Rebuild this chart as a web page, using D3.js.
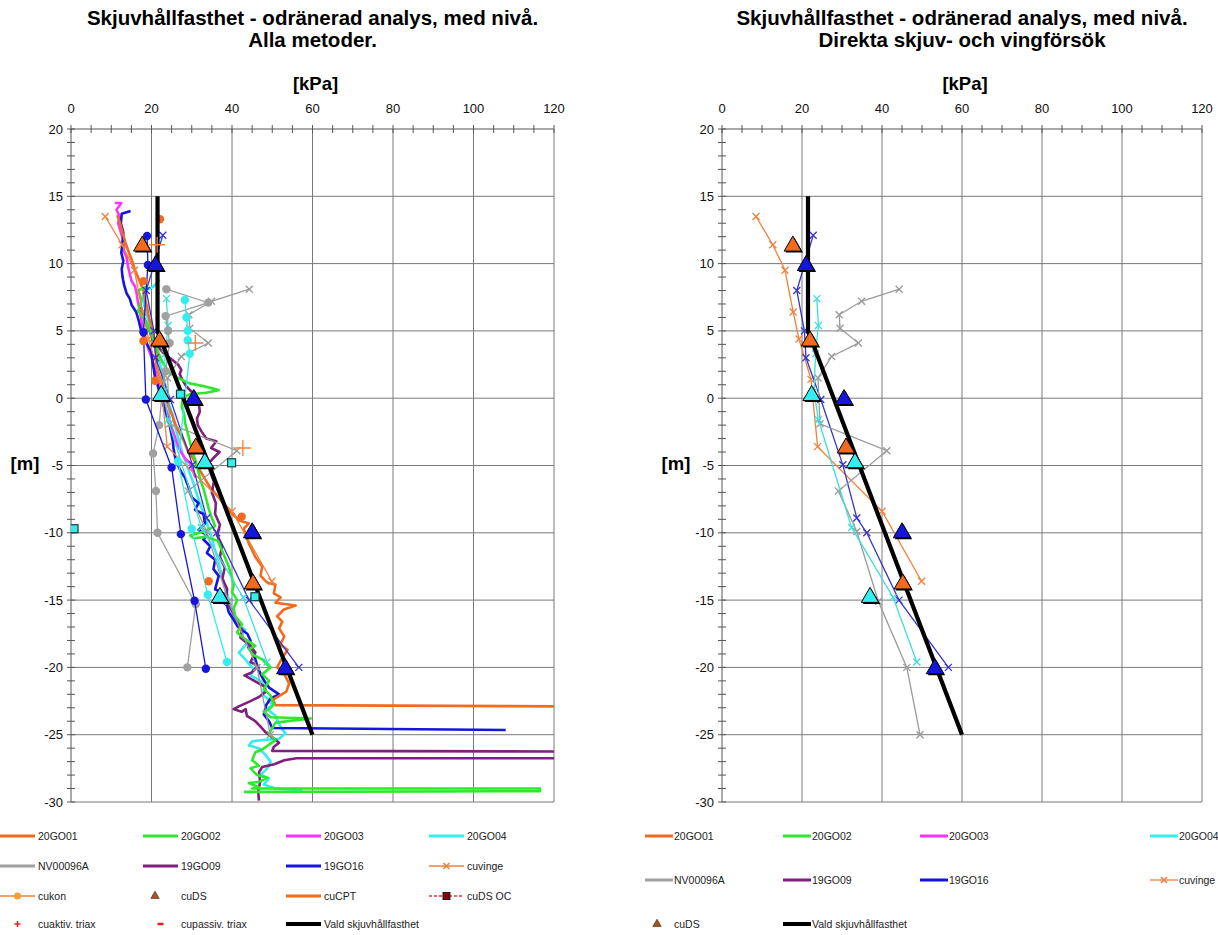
<!DOCTYPE html>
<html><head><meta charset="utf-8">
<script src="https://cdn.jsdelivr.net/npm/d3@7"></script>
<style>body{margin:0;background:#fff;} svg{display:block;} text{font-family:'Liberation Sans',Arial,sans-serif;}</style>
</head><body><svg id="c" width="1218" height="935"></svg>
<script>
// ---------- tick labels ----------
const xTicks = [0, 20, 40, 60, 80, 100, 120];
const yTicks = [20, 15, 10, 5, 0, -5, -10, -15, -20, -25, -30];

// ---------- CPT series: [kPa, level m] ----------
const s20GO01 = [[11.5,13.6],[12.2,13],[12.8,12.3],[13.5,11.6],[14.4,10.8],[15.2,10.2],[15.8,9.6],[16.5,9.1],[17.3,8.5],[18,8],[18.3,7.4],[18.9,6.8],[19.3,6.1],[19.8,5.5],[20.3,4.9],[20.6,4.2],[21,3.6],[21.4,3],[21.2,2.4],[21.8,1.8],[22.6,1.2],[23,0.6],[23.6,0],[24.3,-0.7],[25.2,-1.3],[26,-2],[27,-2.6],[28.1,-3.2],[29,-3.9],[30.4,-4.5],[31.2,-5],[32.3,-5.5],[33.5,-6.1],[34.5,-6.6],[35.9,-7.1],[37.3,-7.6],[38.5,-8.1],[40.1,-8.6],[42,-9.1],[44.2,-9.3],[42.9,-9.7],[43.5,-10.2],[44.2,-10.8],[45,-11.3],[45.8,-11.8],[47.5,-12.5],[47.1,-13.2],[48.75,-13.7],[50.8,-13.85],[50.4,-14.5],[52.1,-14.8],[50.8,-15.2],[55.8,-15.4],[52.9,-15.7],[51.2,-16.2],[52.5,-16.6],[51.7,-17.1],[53,-17.7],[52,-18.3],[53.8,-18.7],[52.5,-19.3],[51.2,-20],[53,-20.5],[54.2,-21.2],[53.5,-21.8],[50.2,-22.4],[50.8,-22.8],[125,-22.9]];
const s20GO02 = [[18.8,8.3],[16.7,8],[17.5,7.3],[16.7,6.5],[17.9,6],[18.8,5.5],[19.6,5],[20.3,4.5],[21,4],[21.7,3.4],[22.5,2.8],[23.5,2.3],[24.5,1.9],[26.6,1.5],[29.5,1.1],[32.8,0.9],[36.7,0.6],[33.6,0.4],[29.5,0.3],[27.8,0],[27.5,-0.6],[28.1,-1.2],[28.4,-1.9],[29,-2.6],[29.6,-3.3],[30.2,-4],[31,-4.7],[31.6,-5.4],[32.2,-6.1],[33,-6.8],[33.6,-7.5],[34.2,-8.2],[35,-8.9],[35.8,-9.5],[33,-9.9],[29.6,-10.2],[30.5,-10.4],[33.5,-10.3],[36.5,-10.6],[37.2,-11.1],[38.2,-11.8],[39.2,-12.5],[39.8,-13.2],[40.5,-13.8],[40,-14.4],[41.3,-15],[40.4,-15.6],[40.8,-16.2],[42.5,-16.8],[41.25,-17.4],[43.3,-17.9],[45.8,-18.4],[44.2,-18.65],[45.4,-19.1],[47.5,-19.4],[48.75,-19.8],[49.6,-20],[47.5,-20.5],[49.2,-21],[47.9,-21.6],[49.6,-22.1],[50.4,-22.8],[49.2,-23.1],[47.9,-23.3],[49.6,-23.7],[59.6,-23.8],[50.8,-24.1],[49.2,-24.9],[50.8,-25.4],[47.5,-26.1],[45.8,-26.3],[45,-26.9],[46.7,-27.3],[44.6,-27.5],[46.2,-28],[48.8,-28.2],[46.7,-28.5],[44.2,-28.6],[46.7,-28.9],[45,-29],[116.5,-29],[116.5,-29.2],[43,-29.25]];
const s20GO03 = [[10.9,14.5],[12.5,14.5],[11.3,14],[12.1,13.5],[11.7,13],[12.5,12.2],[13.4,11.5],[13,11],[13.8,10.5],[14.2,9.75],[14.6,9.25],[15,8.75],[15.9,8.3],[16.3,7.8],[16.7,7],[17.1,6.5],[17.5,5.8],[17.9,5],[18.6,4.3],[19.3,3.6],[20.2,2.9],[20.8,2.2],[21.4,1.5],[22.2,0.8],[22.8,0.1],[23.4,-0.6],[24.1,-1.3],[24.8,-2],[25.6,-2.7],[26.4,-3.4],[27.3,-4],[28.4,-4.5],[29.5,-4.8],[30.2,-5.3],[30.9,-5.9]];
const s20GO04 = [[22,8.8],[20.5,8.3],[18.5,8],[17.8,7.5],[18.2,6.9],[18.8,6.3],[19.3,5.6],[19.9,5],[20.5,4.3],[21.2,3.6],[21.8,2.9],[22.4,2.2],[23,1.5],[23.5,0.8],[24,0.1],[24.5,-0.6],[25.3,-1.3],[25.8,-2],[26.4,-2.7],[27,-3.4],[27.7,-4.1],[28.6,-4.8],[29.4,-5.5],[30.3,-6.2],[31,-6.9],[31.8,-7.6],[32.6,-8.3],[33.5,-9],[34.2,-9.7],[35,-10.4],[35.6,-11.1],[36.3,-11.8],[36.9,-12.5],[37.5,-13.2],[38.2,-13.9],[38.9,-14.6],[39.5,-15.3],[40.1,-16],[40.8,-16.7],[43.3,-17.2],[42.1,-17.7],[43.75,-18.2],[41.7,-18.9],[43.3,-19.4],[44.2,-19.75],[45.4,-20.1],[44.6,-20.6],[47.1,-21],[48.3,-21.5],[47.5,-22],[48.75,-22.3],[50,-22.8],[48.75,-23.1],[50.8,-23.6],[51.7,-24.2],[52.5,-24.6],[53.3,-24.9],[51.7,-25.3],[47.5,-25.4],[45,-25.5],[44.2,-25.8],[46.7,-26],[48.3,-26.5],[49.6,-27],[48.75,-27.5],[47.1,-28],[49.2,-28.25],[47.9,-28.7],[50.8,-29],[55.8,-29.1],[57.5,-29.1]];
const s19GO09 = [[17.2,7],[17.8,6.2],[19.5,5],[20.2,4.4],[21.5,3.9],[22.8,3.4],[24.5,3],[26.6,2.5],[27.4,2.1],[27,1.8],[27.8,1.3],[28.6,0.9],[29.9,0.5],[31.5,0],[31.8,-0.5],[32,-1],[31.3,-1.5],[31.5,-2],[32.5,-2.5],[33.6,-3],[36.1,-3.2],[34.8,-3.7],[36.9,-4],[35.2,-4.5],[34,-4.9],[34.6,-5.5],[35.5,-6.2],[35,-7],[36,-7.8],[35.8,-8.6],[37,-9.4],[36.3,-10.2],[37.5,-11],[37,-11.8],[38.2,-12.6],[37.6,-13.4],[38.8,-14.2],[38.5,-15],[40,-15.8],[41.7,-16.7],[42.5,-17.2],[42.1,-17.8],[44.6,-18.4],[45.8,-18.9],[44.6,-19.6],[46.5,-19.9],[44.8,-20.4],[43.1,-20.6],[48,-21.4],[48.4,-21.8],[46.7,-22.2],[44.6,-22.5],[41.7,-22.9],[40.4,-23.1],[42.4,-23.3],[43.4,-23.1],[43.7,-23.6],[45.8,-24],[47.1,-24.4],[48.3,-24.8],[50,-25.2],[51.7,-25.6],[50.4,-25.9],[50,-26.2],[125,-26.25],[125,-26.75],[56,-26.75],[53,-26.9],[50.5,-27.2],[47.5,-27.4],[46.7,-27.8],[47,-28.5],[46.5,-29.2],[46.7,-29.9]];
const s19GO16 = [[14.8,13.9],[12.6,13.7],[12.4,13],[13,12.3],[12.8,11.6],[12.5,10.8],[13,10.2],[12.6,9.6],[12.8,9],[13.2,8.4],[13.8,7.8],[14.6,7.4],[15.1,6.9],[16.2,6.4],[16.8,5.8],[17.2,5.3],[17.6,4.8],[18.3,4.4],[19.1,3.9],[20,3.4],[20.2,2.8],[20.6,2.1],[20.9,1.5],[21.5,1],[22,0.4],[22.6,-0.2],[23.3,-0.8],[23.8,-1.3],[24.5,-2],[24.9,-2.6],[25.3,-3.2],[25.5,-3.8],[25.8,-4.3],[26.6,-5],[27.4,-5.5],[28.3,-5.9],[29.2,-6.6],[30,-7.35],[31.7,-7.8],[30.8,-8.3],[32.9,-8.6],[33.3,-9.3],[31.7,-9.8],[33.75,-10.2],[32.9,-10.5],[34.6,-11],[33.75,-11.5],[35.8,-12],[35.4,-12.7],[36.7,-13.2],[36.25,-13.7],[35.8,-14.2],[37.9,-14.5],[37.1,-15],[38.75,-15.4],[39.2,-15.9],[40.5,-16.5],[41.5,-17],[43.8,-17.5],[44.6,-18],[44,-18.5],[45.4,-19],[46.2,-19.8],[47.1,-20.5],[48,-21],[49.2,-21.5],[51.7,-22],[49.6,-22.3],[48.5,-22.8],[47.9,-23.5],[49.2,-24],[50,-24.5],[108,-24.65]];

// ---------- vane tests (cuvinge), per borehole ----------
const vane20GO01 = [[8.5,13.5],[12.7,11.4],[15.75,9.5],[17.8,6.4],[19.25,4.4],[22.25,1.4],[23.9,-3.6],[40,-8.4],[49.9,-13.6]];
const vane19GO16 = [[22.8,12.1],[18.7,8.0],[20.6,5.0],[21,3.0],[24.7,-0.1],[30.2,-4.95],[33.7,-8.9],[36.2,-10.0],[44.25,-15.0],[56.6,-20.0]];
const vaneNV00096A = [[44.3,8.1],[34.9,7.2],[29.3,6.2],[29.5,5.2],[34.1,4.1],[27.4,3.1],[24,1.5],[24.5,-1.9],[41.2,-3.9],[29.1,-6.9],[33.7,-9.9],[39.1,-15.1],[46.2,-20],[49.5,-25]];
const vane20GO04 = [[23.7,7.4],[24.1,5.4],[23.4,3.3],[23.0,0.5],[24.1,-1.6],[32.4,-9.6],[42.8,-14.8],[48.7,-19.6]];

// ---------- cone tests (cukon) ----------
const kon20GO01 = [[22.1,13.3],[18,8.7],[18,4.25],[20.9,1.3],[42.4,-8.8],[34.2,-13.6]];
const kon19GO16 = [[18.9,12.05],[19.1,9.9],[18,4.9],[18.6,-0.1],[25,-5.15],[27.3,-10.1],[30.7,-15.05],[33.5,-20.1]];
const konNV00096A = [[23.7,8.1],[34.1,7.1],[23.5,6.1],[24.1,5],[24.5,4.1],[23.5,2],[22.5,0],[21.9,-2],[20.4,-4.1],[21.1,-6.9],[21.5,-10],[31,-15.3],[28.9,-20]];
const kon20GO04 = [[28.3,7.3],[28.7,6],[29,5],[29,4.3],[29.5,3.3],[26.6,-4.7],[30,-9.7],[34,-14.6],[38.75,-19.6]];

// ---------- direct shear (cuDS) ----------
const ds20GO01 = [[17.7,11.3],[22,4.25],[31,-3.7],[45.2,-13.8]];
const ds19GO16 = [[21,9.85],[30.5,-0.1],[45,-10],[53.25,-20.1]];
const ds20GO04 = [[22.4,0.2],[33.25,-4.8],[37,-14.8]];
// cuDS OC
const dsOC = [[27.2,0.3],[39.9,-4.8],[0.75,-9.7],[45.7,-14.75]];
// active triax
const triaxAkt = [[21.4,11.4],[30.9,4.1],[42.7,-3.7]];
// chosen shear strength
const vald = [[21.5,15],[21.5,5],[60,-25]];

// ---------- colours ----------
const C = {o:'#f26b1d', g:'#2ee82e', m:'#ff33ff', c:'#33eeee', gr:'#a0a0a0', p:'#7f1f7f', b:'#1515dd',
  vo:'#f0813a', vb:'#3535cc', vgr:'#9a9a9a', vc:'#3ddede', k:'#000'};

const svg = d3.select('#c');

function drawPanel(cfg){
  const x = d3.scaleLinear().domain([0,120]).range([cfg.x0, cfg.x1]);
  const y = d3.scaleLinear().domain([-30,20]).range([802,129]);
  const g = svg.append('g');
  const clipId = 'clip'+cfg.id;
  svg.append('clipPath').attr('id',clipId).append('rect')
    .attr('x',x(0)).attr('y',y(20)).attr('width',x(120)-x(0)).attr('height',y(-30)-y(20));

  // grid
  g.selectAll('line.vg').data(xTicks.filter(v=>v>0)).join('line').attr('class','vg')
    .attr('x1',d=>x(d)).attr('x2',d=>x(d)).attr('y1',y(20)).attr('y2',y(-30))
    .attr('stroke','#7a7a7a').attr('stroke-width',1);
  g.selectAll('line.hg').data(yTicks.filter(v=>v<20)).join('line').attr('class','hg')
    .attr('x1',x(0)).attr('x2',x(120)).attr('y1',d=>y(d)).attr('y2',d=>y(d))
    .attr('stroke','#7a7a7a').attr('stroke-width',1);
  // axis lines
  g.append('line').attr('x1',x(0)).attr('x2',x(0)).attr('y1',y(20)).attr('y2',y(-30)).attr('stroke','#555');
  g.append('line').attr('x1',x(0)).attr('x2',x(120)).attr('y1',y(20)).attr('y2',y(20)).attr('stroke','#555');
  // minor ticks
  g.selectAll('line.ty').data(d3.range(-30,21,1)).join('line').attr('class','ty')
    .attr('x1',x(0)-4).attr('x2',x(0)+4).attr('y1',d=>y(d)).attr('y2',d=>y(d)).attr('stroke','#555');
  g.selectAll('line.tx').data(d3.range(0,121,5)).join('line').attr('class','tx')
    .attr('x1',d=>x(d)).attr('x2',d=>x(d)).attr('y1',y(20)-4).attr('y2',y(20)+4).attr('stroke','#555');
  // tick labels
  g.selectAll('text.xl').data(xTicks).join('text').attr('class','xl')
    .attr('x',d=>x(d)).attr('y',113).attr('text-anchor','middle').attr('font-size',13).attr('fill','#111').text(d=>d);
  g.selectAll('text.yl').data(yTicks).join('text').attr('class','yl')
    .attr('x',x(0)-8).attr('y',d=>y(d)+4.5).attr('text-anchor','end').attr('font-size',13).attr('fill','#111').text(d=>d);
  // titles
  const cx = (x(0)+x(120))/2 + cfg.tdx;
  g.append('text').attr('x',cx).attr('y',25).attr('text-anchor','middle').attr('font-size',20.5).attr('font-weight','bold').text(cfg.t1);
  g.append('text').attr('x',cx).attr('y',47).attr('text-anchor','middle').attr('font-size',20.5).attr('font-weight','bold').text(cfg.t2);
  g.append('text').attr('x',cx+3).attr('y',90).attr('text-anchor','middle').attr('font-size',18.5).attr('font-weight','bold').text('[kPa]');
  g.append('text').attr('x',cfg.mx).attr('y',470).attr('text-anchor','middle').attr('font-size',18.5).attr('font-weight','bold').text('[m]');

  const data = svg.append('g').attr('clip-path',`url(#${clipId})`);
  const line = d3.line().x(d=>x(d[0])).y(d=>y(d[1]));

  if(cfg.all){
    const cpt = [[s20GO04,C.c],[s20GO03,C.m],[s19GO16,C.b],[s20GO01,C.o],[s19GO09,C.p],[s20GO02,C.g]];
    cpt.forEach(([s,col])=>{
      data.append('path').datum(s).attr('d',line).attr('fill','none').attr('stroke',col).attr('stroke-width',2.6).attr('stroke-linejoin','round');
    });
  }
  // vane
  const vanes = [[vane20GO01,C.vo],[vane19GO16,C.vb],[vaneNV00096A,C.vgr],[vane20GO04,C.vc]];
  vanes.forEach(([s,col])=>{
    data.append('path').datum(s).attr('d',line).attr('fill','none').attr('stroke',col).attr('stroke-width',1.3);
    data.append('g').selectAll('path').data(s).join('path')
      .attr('transform',d=>`translate(${x(d[0])},${y(d[1])})`)
      .attr('d','M-3.5,-3.5L3.5,3.5M-3.5,3.5L3.5,-3.5').attr('stroke',col).attr('stroke-width',1.3);
  });
  if(cfg.all){
    const kons = [[konNV00096A,C.gr,true],[kon19GO16,C.b,true],[kon20GO04,C.c,true],[kon20GO01,C.o,false]];
    kons.forEach(([s,col,withLine])=>{
      if(withLine) data.append('path').datum(s).attr('d',line).attr('fill','none').attr('stroke',col).attr('stroke-width',1.3);
      data.append('g').selectAll('circle').data(s).join('circle')
        .attr('cx',d=>x(d[0])).attr('cy',d=>y(d[1])).attr('r',4.2).attr('fill',col);
    });
  }
  // chosen line
  data.append('path').datum(vald).attr('d',line).attr('fill','none').attr('stroke',C.k).attr('stroke-width',4.2);
  // triangles
  const tri = d3.symbol().type(d3.symbolTriangle).size(130);
  const dss = [[ds20GO01,C.o],[ds19GO16,C.b],[ds20GO04,C.c]];
  dss.forEach(([s,col])=>{
    const gg = data.append('g');
    gg.selectAll('path.sh').data(s).join('path').attr('class','sh')
      .attr('transform',d=>`translate(${x(d[0])+1.5},${y(d[1])+1.5})`).attr('d',tri).attr('fill','#000');
    gg.selectAll('path.fg').data(s).join('path').attr('class','fg')
      .attr('transform',d=>`translate(${x(d[0])},${y(d[1])})`).attr('d',tri).attr('fill',col).attr('stroke','#000').attr('stroke-width',1);
  });
  if(cfg.all){
    data.append('g').selectAll('rect').data(dsOC).join('rect')
      .attr('x',d=>x(d[0])-4).attr('y',d=>y(d[1])-4).attr('width',8).attr('height',8)
      .attr('fill',C.c).attr('stroke','#1a3a3a').attr('stroke-width',1.2);
    data.append('g').selectAll('path').data(triaxAkt).join('path')
      .attr('transform',d=>`translate(${x(d[0])},${y(d[1])})`)
      .attr('d','M-8,0L8,0M0,-8L0,8').attr('stroke',C.vo).attr('stroke-width',1.3);
  }
}

drawPanel({id:'L', x0:71, x1:554, all:true, tdx:0, mx:25,
  t1:'Skjuvhållfasthet - odränerad analys, med nivå.', t2:'Alla metoder.'});
drawPanel({id:'R', x0:722, x1:1202, all:false, tdx:0, mx:676,
  t1:'Skjuvhållfasthet - odränerad analys, med nivå.', t2:'Direkta skjuv- och vingförsök'});

// ---------- legends ----------
const legendLeft = [
  ['20GO01','line',C.o,0,0],['20GO02','line',C.g,1,0],['20GO03','line',C.m,2,0],['20GO04','line',C.c,3,0],
  ['NV00096A','line',C.gr,0,1],['19GO09','line',C.p,1,1],['19GO16','line',C.b,2,1],['cuvinge','vane',C.vo,3,1],
  ['cukon','kon','#f5a030',0,2],['cuDS','tri','#b0501a',1,2],['cuCPT','line',C.o,2,2],['cuDS OC','oc','#e03030',3,2],
  ['cuaktiv. triax','plus','#e02020',0,3],['cupassiv. triax','minus','#e02020',1,3],['Vald skjuvhållfasthet','black','#000',2,3]
];
const legLeftCols = [0,143,286,429];
const legLeftRows = [836,866,896,924];
const legendRight = [
  ['20GO01','line',C.o,0,0],['20GO02','line',C.g,1,0],['20GO03','line',C.m,2,0],['20GO04','line',C.c,3,0],
  ['NV00096A','line',C.gr,0,1],['19GO09','line',C.p,1,1],['19GO16','line',C.b,2,1],['cuvinge','vane',C.vo,3,1],
  ['cuDS','tri','#b0501a',0,2],['Vald skjuvhållfasthet','black','#000',1,2]
];
const legRightCols = [645,783,920,1150];
const legRightRows = [836,880,924];

function drawLegend(items, cols, rows, len, gap){
  const lg = svg.append('g');
  items.forEach(([label,type,col,ci,ri])=>{
    const x0 = cols[ci], yy = rows[ri], xm = x0+len/2;
    const it = lg.append('g');
    if(type==='line') it.append('line').attr('x1',x0).attr('x2',x0+len).attr('y1',yy).attr('y2',yy).attr('stroke',col).attr('stroke-width',3);
    if(type==='black') it.append('line').attr('x1',x0).attr('x2',x0+len).attr('y1',yy).attr('y2',yy).attr('stroke',col).attr('stroke-width',4);
    if(type==='vane'){
      it.append('line').attr('x1',x0).attr('x2',x0+len).attr('y1',yy).attr('y2',yy).attr('stroke',col).attr('stroke-width',1.3);
      it.append('path').attr('transform',`translate(${xm},${yy})`).attr('d','M-3,-3L3,3M-3,3L3,-3').attr('stroke',col).attr('stroke-width',1.5);
    }
    if(type==='kon'){
      it.append('line').attr('x1',x0).attr('x2',x0+len).attr('y1',yy).attr('y2',yy).attr('stroke',C.vo).attr('stroke-width',1.3);
      it.append('circle').attr('cx',xm).attr('cy',yy).attr('r',3.5).attr('fill',col);
    }
    if(type==='tri'){
      it.append('path').attr('transform',`translate(${x0+12},${yy})`).attr('d',d3.symbol().type(d3.symbolTriangle).size(30)).attr('fill',col).attr('stroke','#222').attr('stroke-width',0.6);
    }
    if(type==='oc'){
      it.append('line').attr('x1',x0).attr('x2',x0+len).attr('y1',yy).attr('y2',yy).attr('stroke',col).attr('stroke-width',1.3).attr('stroke-dasharray','3,2');
      it.append('rect').attr('x',xm-3.5).attr('y',yy-3.5).attr('width',7).attr('height',7).attr('fill','#8a0000').attr('stroke','#222');
    }
    if(type==='plus') it.append('path').attr('transform',`translate(${xm},${yy})`).attr('d','M-3,0L3,0M0,-3L0,3').attr('stroke',col).attr('stroke-width',1.5);
    if(type==='minus') it.append('path').attr('transform',`translate(${xm},${yy})`).attr('d','M-3,0L3,0').attr('stroke',col).attr('stroke-width',2.5);
    it.append('text').attr('x',x0+len+gap).attr('y',yy+3.5).attr('font-size',10.5).attr('fill','#222').text(label);
  });
}
drawLegend(legendLeft, legLeftCols, legLeftRows, 35, 3);
drawLegend(legendRight, legRightCols, legRightRows, 28, 1);
</script></body></html>
